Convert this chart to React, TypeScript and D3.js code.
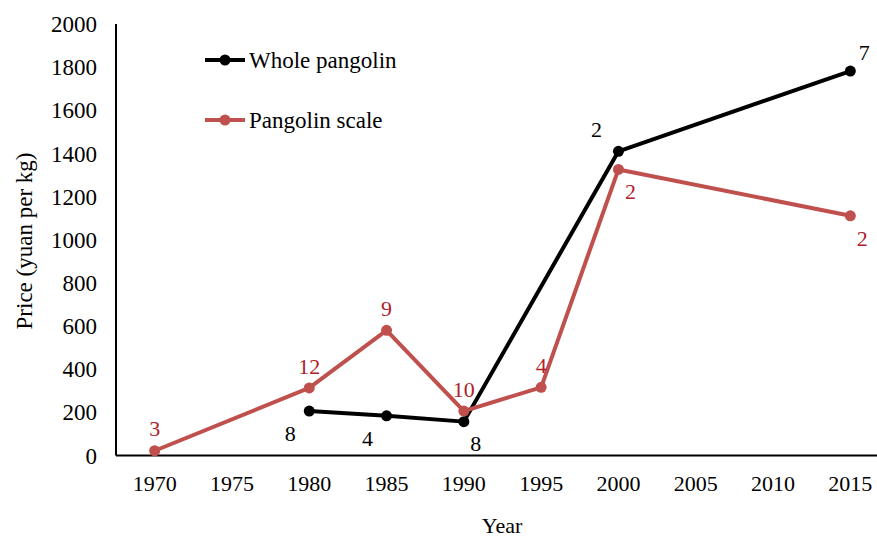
import React from "react";
import * as d3 from "d3";

const years = ["1970", "1975", "1980", "1985", "1990", "1995", "2000", "2005", "2010", "2015"];

const wholeYears = ["1980", "1985", "1990", "2000", "2015"];
const wholePrice = [206, 184, 157, 1410, 1782];
const wholeCounts = [8, 4, 8, 2, 7];
const wholeLabelPos = ["bl", "bl", "br", "al", "ar"];

const scaleYears = ["1970", "1980", "1985", "1990", "1995", "2000", "2015"];
const scalePrice = [22, 313, 580, 206, 316, 1326, 1111];
const scaleCounts = [3, 12, 9, 10, 4, 2, 2];
const scaleLabelPos = ["a", "a", "a", "a", "a", "br", "br"];

const yTicks = [0, 200, 400, 600, 800, 1000, 1200, 1400, 1600, 1800, 2000];

const W = 877;
const H = 541;
const FONT = "Liberation Serif, DejaVu Serif, serif";
const BLACK = "#000000";
const RED = "#C0504D";
const RED_TEXT = "#B0202A";

const labelOffset = (pos: string): [number, number] => {
  switch (pos) {
    case "bl": return [-19, 22];
    case "br": return [12, 22];
    case "al": return [-22, -22];
    case "ar": return [14, -19];
    default: return [0, -22];
  }
};

export default function App() {
  const x = d3.scaleBand().domain(years).range([116, 889]);
  const y = d3.scaleLinear().domain([0, 2000]).range([455.5, 24]);
  const cx = (yr: string) => (x(yr) ?? 0) + x.bandwidth() / 2;

  const line = d3.line<[string, number]>().x((d) => cx(d[0])).y((d) => y(d[1]));

  const whole = wholeYears.map((yr, i) => [yr, wholePrice[i]] as [string, number]);
  const scale = scaleYears.map((yr, i) => [yr, scalePrice[i]] as [string, number]);

  const series = [
    { name: "Whole pangolin", data: whole, counts: wholeCounts, pos: wholeLabelPos, color: BLACK, text: BLACK },
    { name: "Pangolin scale", data: scale, counts: scaleCounts, pos: scaleLabelPos, color: RED, text: RED_TEXT },
  ];

  return (
    <svg width={W} height={H} style={{ position: "absolute", left: 0, top: 0, background: "#fff", fontFamily: FONT }}>
      <rect width={W} height={H} fill="#fff" />
      {/* axes */}
      <line x1={116} x2={116} y1={y(2000)} y2={y(0)} stroke="#000" strokeWidth={2} />
      <line x1={116} x2={W} y1={y(0)} y2={y(0)} stroke="#000" strokeWidth={2} />
      {yTicks.map((t) => (
        <text key={t} x={97} y={y(t)} dy="0.35em" textAnchor="end" fontSize={23} fill="#000">
          {t}
        </text>
      ))}
      {years.map((yr) => (
        <text key={yr} x={cx(yr)} y={483} dy="0.35em" textAnchor="middle" fontSize={22} fill="#000">
          {yr}
        </text>
      ))}
      <text x={502} y={525} dy="0.35em" textAnchor="middle" fontSize={22} fill="#000">Year</text>
      <text transform={`translate(24,241) rotate(-90)`} dy="0.35em" textAnchor="middle" fontSize={23} fill="#000">
        Price (yuan per kg)
      </text>

      {/* lines */}
      {series.map((s) => (
        <g key={s.name}>
          <path d={line(s.data) ?? ""} fill="none" stroke={s.color} strokeWidth={4} strokeLinejoin="round" />
          {s.data.map((d, i) => (
            <circle key={i} cx={cx(d[0])} cy={y(d[1])} r={5.5} fill={s.color} />
          ))}
        </g>
      ))}
      {series.map((s) =>
        s.data.map((d, i) => {
          const [dx, dy] = labelOffset(s.pos[i]);
          return (
            <text key={s.name + i} x={cx(d[0]) + dx} y={y(d[1]) + dy} dy="0.35em" textAnchor="middle" fontSize={22} fill={s.text}>
              {s.counts[i]}
            </text>
          );
        })
      )}

      {/* legend */}
      {series.map((s, i) => (
        <g key={s.name} transform={`translate(0,${60 + i * 60})`}>
          <line x1={205} x2={245} y1={0} y2={0} stroke={s.color} strokeWidth={4} />
          <circle cx={225} cy={0} r={5.5} fill={s.color} />
          <text x={249} y={0} dy="0.35em" fontSize={23} fill="#000">{s.name}</text>
        </g>
      ))}
    </svg>
  );
}
